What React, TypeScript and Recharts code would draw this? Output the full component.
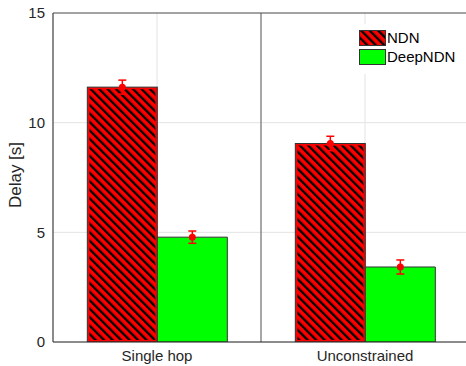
import React from 'react';
import { BarChart, Bar, XAxis, YAxis, CartesianGrid, ErrorBar, LabelList, ReferenceLine, Legend, Label } from 'recharts';

const categories = ['Single hop', 'Unconstrained'];
const positions = [1, 2];
const ndnValues = [11.62, 9.05];
const ndnErrors = [0.32, 0.33];
const deepValues = [4.78, 3.42];
const deepErrors = [0.28, 0.32];
const yTicks = [0, 5, 10, 15];

const data = categories.map((c, i) => ({
  name: c,
  pos: positions[i],
  ndn: ndnValues[i],
  ndnErr: ndnErrors[i],
  deep: deepValues[i],
  deepErr: deepErrors[i],
}));

const FONT = 'Liberation Sans, Arial, Helvetica, sans-serif';
const TXT = '#262626';

const HatchDefs = ({ id }: { id: string }) => (
  <defs>
    <pattern id={id} patternUnits="userSpaceOnUse" width={6} height={6} patternTransform="rotate(-45)">
      <rect x={0} y={0} width={6} height={6} fill="#ff0000" />
      <rect x={0} y={0} width={2.3} height={6} fill="#000000" />
    </pattern>
  </defs>
);

const NdnShape = (props: any) => {
  const { x, y, width, height, index } = props;
  const id = `hatch-bar-${index}`;
  return (
    <g>
      <HatchDefs id={id} />
      <rect x={x} y={y} width={width} height={height} fill="#ff0000" stroke="#333333" strokeWidth={1} />
      <rect x={x + 2} y={y + 2} width={Math.max(0, width - 4)} height={Math.max(0, height - 4)} fill={`url(#${id})`} />
    </g>
  );
};

const Dot = (props: any) => {
  const { x, y, width } = props;
  return <circle cx={x + width / 2} cy={y} r={3.5} fill="#ff0000" />;
};

const LegendContent = () => (
  <div style={{ background: '#ffffff', padding: '4px 20px 8px 4px', fontFamily: FONT, fontSize: 15, color: '#000' }}>
    <div style={{ display: 'flex', alignItems: 'center', height: 19 }}>
      <svg width={27} height={16} style={{ display: 'block' }}>
        <HatchDefs id="hatch-legend" />
        <rect x={0.5} y={0.5} width={26} height={15} fill="url(#hatch-legend)" stroke="#333333" />
      </svg>
      <span style={{ marginLeft: 1 }}>NDN</span>
    </div>
    <div style={{ display: 'flex', alignItems: 'center', height: 19 }}>
      <svg width={27} height={16} style={{ display: 'block' }}>
        <rect x={0.5} y={0.5} width={26} height={15} fill="#00ff00" stroke="#333333" />
      </svg>
      <span style={{ marginLeft: 1 }}>DeepNDN</span>
    </div>
  </div>
);

const YLabel = (props: any) => {
  const { viewBox } = props;
  const cx = viewBox.x + 15;
  const cy = viewBox.y + 162;
  return (
    <text x={cx} y={cy} transform={`rotate(-90 ${cx} ${cy})`} textAnchor="middle" dominantBaseline="central"
      fill={TXT} fontSize={17} fontFamily={FONT}>
      Delay [s]
    </text>
  );
};

export default function App() {
  return (
    <div style={{ position: 'fixed', left: 0, top: 0, width: 466, height: 366, overflow: 'hidden', background: '#ffffff' }}>
      <BarChart
        width={480}
        height={366}
        data={data}
        margin={{ top: 13, right: 11, bottom: 0, left: 0 }}
        barCategoryGap="16.5%"
        barGap={0}
      >
        <CartesianGrid stroke="#e3e3e3" strokeWidth={1} />
        <XAxis
          dataKey="name"
          height={24}
          tickSize={0}
          tickMargin={8}
          axisLine={{ stroke: '#262626' }}
          tickLine={false}
          tick={{ fill: TXT, fontSize: 15, fontFamily: FONT }}
        />
        <XAxis xAxisId="n" dataKey="pos" type="number" domain={[0.5, 2.5]} allowDataOverflow hide />
        <YAxis
          width={53}
          domain={[0, 15]}
          ticks={yTicks}
          tickSize={0}
          tickMargin={8}
          axisLine={{ stroke: '#262626' }}
          tickLine={false}
          tick={{ fill: TXT, fontSize: 15, fontFamily: FONT }}
          allowDataOverflow
        >
          <Label content={<YLabel />} />
        </YAxis>
        <ReferenceLine xAxisId="n" x={1.5} stroke="#8a8a8a" strokeWidth={1.5} ifOverflow="visible" />
        <ReferenceLine y={15} stroke="#555555" strokeWidth={1} />
        <Bar dataKey="ndn" shape={<NdnShape />} isAnimationActive={false}>
          <ErrorBar dataKey="ndnErr" width={4} stroke="#ff0000" strokeWidth={1.5} />
          <LabelList dataKey="ndn" content={<Dot />} />
        </Bar>
        <Bar dataKey="deep" fill="#00ff00" stroke="#333333" strokeWidth={1} isAnimationActive={false}>
          <ErrorBar dataKey="deepErr" width={4} stroke="#ff0000" strokeWidth={1.5} />
          <LabelList dataKey="deep" content={<Dot />} />
        </Bar>
        <Legend
          layout="vertical"
          align="center"
          verticalAlign="middle"
          content={<LegendContent />}
          wrapperStyle={{ left: 355, top: 24, width: 130 }}
        />
      </BarChart>
    </div>
  );
}
